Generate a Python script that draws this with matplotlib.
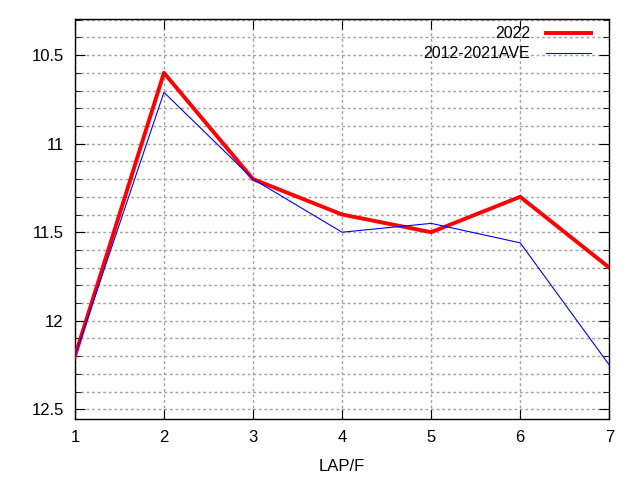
import matplotlib
matplotlib.use("Agg")
import matplotlib.pyplot as plt
import numpy as np

plt.rcParams['font.family'] = ['Liberation Sans', 'DejaVu Sans']

laps = [1, 2, 3, 4, 5, 6, 7]
y2022 = [12.2, 10.6, 11.2, 11.4, 11.5, 11.3, 11.7]
yave = [12.2, 10.71, 11.2, 11.5, 11.45, 11.56, 12.25]
yticks = [10.5, 11, 11.5, 12, 12.5]

fig = plt.figure(figsize=(6.4, 4.8), dpi=100)
ax = fig.add_axes([0.117, 0.127, 0.835, 0.833])

ax.plot(laps, y2022, color='#ff0000', lw=2.8, label='2022', zorder=3)
ax.plot(laps, yave, color='#0000ff', lw=0.8, label='2012-2021AVE', zorder=4)

ax.set_xlim(1, 7)
ax.set_ylim(12.555, 10.297)
ax.set_xticks(laps)
ax.set_yticks(yticks)
ax.set_yticklabels(['10.5', '11', '11.5', '12', '12.5'])
ax.set_yticks(np.arange(10.3, 12.56, 0.1), minor=True)

ax.grid(True, which='major', color='#a0a0a0', linestyle=(0, (2, 2)), lw=1)
ax.grid(True, which='minor', axis='y', color='#a0a0a0', linestyle=(0, (2, 2)), lw=1)
ax.tick_params(which='both', direction='in', top=True, right=True, labelsize=12, pad=8)
ax.tick_params(which='major', length=7)
ax.tick_params(which='minor', length=4)
for s in ax.spines.values():
    s.set_linewidth(1)

ax.set_xlabel('LAP/F', fontsize=12, labelpad=10)

ax.legend(loc='upper right', bbox_to_anchor=(0.977, 0.998), frameon=False,
          markerfirst=False, fontsize=11.5, handlelength=2.8, handletextpad=1.0,
          borderaxespad=0, labelspacing=0.3)

fig.savefig('out.png', dpi=100)
